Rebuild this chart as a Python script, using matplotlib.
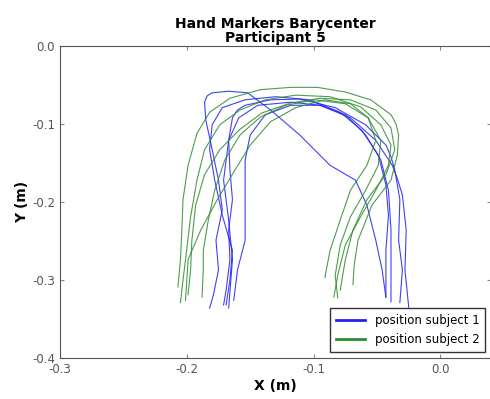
import matplotlib
matplotlib.use('Agg')
import matplotlib.pyplot as plt

# trajectories (metres)
blue_x = [
    [-0.182, -0.179, -0.175, -0.177, -0.172, -0.175, -0.180, -0.185, -0.186, -0.184, -0.180, -0.167, -0.152, -0.134, -0.111, -0.087, -0.067, -0.058, -0.051, -0.046, -0.043],
    [-0.171, -0.169, -0.166, -0.167, -0.164, -0.166, -0.167, -0.164, -0.160, -0.154, -0.134, -0.111, -0.083, -0.059, -0.043, -0.039, -0.036, -0.032, -0.033, -0.030, -0.032],
    [-0.167, -0.164, -0.167, -0.171, -0.167, -0.159, -0.144, -0.118, -0.095, -0.071, -0.051, -0.038, -0.034, -0.030, -0.027, -0.028, -0.025],
    [-0.163, -0.160, -0.154, -0.154, -0.154, -0.150, -0.138, -0.118, -0.095, -0.075, -0.059, -0.047, -0.041, -0.039, -0.039, -0.039],
    [-0.169, -0.166, -0.164, -0.172, -0.178, -0.182, -0.180, -0.172, -0.154, -0.130, -0.103, -0.079, -0.062, -0.049, -0.043, -0.041, -0.043, -0.043, -0.043],
]
blue_y = [
    [-0.336, -0.319, -0.287, -0.249, -0.210, -0.172, -0.133, -0.095, -0.072, -0.064, -0.060, -0.058, -0.060, -0.082, -0.114, -0.153, -0.172, -0.204, -0.249, -0.287, -0.322],
    [-0.332, -0.313, -0.274, -0.236, -0.197, -0.159, -0.121, -0.092, -0.082, -0.076, -0.069, -0.068, -0.079, -0.101, -0.127, -0.142, -0.159, -0.197, -0.249, -0.287, -0.329],
    [-0.336, -0.274, -0.223, -0.172, -0.121, -0.092, -0.076, -0.072, -0.076, -0.092, -0.121, -0.153, -0.170, -0.191, -0.236, -0.287, -0.335],
    [-0.326, -0.287, -0.249, -0.197, -0.146, -0.114, -0.088, -0.076, -0.076, -0.088, -0.114, -0.146, -0.185, -0.236, -0.287, -0.328],
    [-0.332, -0.300, -0.262, -0.217, -0.172, -0.133, -0.101, -0.079, -0.069, -0.065, -0.069, -0.085, -0.108, -0.140, -0.178, -0.217, -0.262, -0.300, -0.322],
]
green_x = [
    [-0.207, -0.205, -0.204, -0.203, -0.199, -0.192, -0.182, -0.166, -0.142, -0.118, -0.097, -0.075, -0.055, -0.039, -0.035, -0.033, -0.034, -0.039, -0.054, -0.065, -0.068, -0.069],
    [-0.205, -0.203, -0.201, -0.197, -0.192, -0.186, -0.174, -0.158, -0.138, -0.114, -0.087, -0.063, -0.047, -0.039, -0.041, -0.051, -0.063, -0.075, -0.081, -0.084],
    [-0.188, -0.187, -0.187, -0.183, -0.178, -0.170, -0.158, -0.142, -0.122, -0.099, -0.075, -0.057, -0.047, -0.049, -0.059, -0.071, -0.079, -0.083, -0.081],
    [-0.201, -0.200, -0.199, -0.189, -0.176, -0.162, -0.150, -0.134, -0.114, -0.091, -0.071, -0.057, -0.051, -0.058, -0.071, -0.079, -0.087, -0.090, -0.091],
    [-0.199, -0.197, -0.196, -0.193, -0.186, -0.174, -0.159, -0.141, -0.118, -0.095, -0.071, -0.051, -0.039, -0.036, -0.043, -0.058, -0.069, -0.075, -0.079],
]
green_y = [
    [-0.309, -0.274, -0.240, -0.197, -0.153, -0.112, -0.085, -0.067, -0.056, -0.053, -0.053, -0.059, -0.069, -0.088, -0.100, -0.114, -0.140, -0.172, -0.204, -0.249, -0.281, -0.306],
    [-0.329, -0.300, -0.274, -0.219, -0.172, -0.133, -0.101, -0.082, -0.069, -0.063, -0.065, -0.078, -0.101, -0.127, -0.153, -0.185, -0.219, -0.255, -0.294, -0.322],
    [-0.322, -0.287, -0.262, -0.223, -0.185, -0.146, -0.114, -0.091, -0.076, -0.069, -0.074, -0.092, -0.121, -0.153, -0.185, -0.219, -0.255, -0.294, -0.323],
    [-0.326, -0.300, -0.274, -0.236, -0.197, -0.159, -0.127, -0.097, -0.079, -0.069, -0.074, -0.092, -0.121, -0.153, -0.185, -0.223, -0.262, -0.287, -0.297],
    [-0.319, -0.287, -0.249, -0.204, -0.165, -0.133, -0.108, -0.086, -0.073, -0.067, -0.069, -0.082, -0.105, -0.133, -0.165, -0.197, -0.236, -0.274, -0.313],
]
x_ticks = [-0.3, -0.2, -0.1, 0.0]
y_ticks = [0.0, -0.1, -0.2, -0.3, -0.4]

fig = plt.figure(figsize=(4.9, 3.99), dpi=100)
ax = fig.add_axes([0.1224, 0.1028, 0.8800, 0.7819])

for i, (xs, ys) in enumerate(zip(blue_x, blue_y)):
    ax.plot(xs, ys, color='#2020f0', lw=0.8, alpha=0.85,
            label='position subject 1' if i == 0 else None)
for i, (xs, ys) in enumerate(zip(green_x, green_y)):
    ax.plot(xs, ys, color='#2e8b2e', lw=0.8, alpha=0.85,
            label='position subject 2' if i == 0 else None)

ax.set_xlim(-0.3, 0.04)
ax.set_ylim(-0.4, 0.0)
ax.set_xticks(x_ticks)
ax.set_yticks(y_ticks)
ax.set_xticklabels(['%.1f' % v for v in x_ticks])
ax.set_yticklabels(['%.1f' % v for v in y_ticks])
ax.tick_params(direction='in', top=True, right=True, labelsize=8.5,
               labelcolor='#555555', color='#888888', length=3)
for s in ax.spines.values():
    s.set_color('#555555')
    s.set_linewidth(0.8)

ax.set_title('Hand Markers Barycenter\nParticipant 5', fontsize=10,
             fontweight='bold', linespacing=0.95, pad=3)
ax.set_xlabel('X (m)', fontsize=10, fontweight='bold', labelpad=2)
ax.set_ylabel('Y (m)', fontsize=10, fontweight='bold', labelpad=2)

leg = ax.legend(loc='lower right', fontsize=8.5, fancybox=False,
                framealpha=1, edgecolor='#333333', handlelength=2.5,
                borderpad=0.5, borderaxespad=0.5)
for h in leg.get_lines():
    h.set_linewidth(2)
    h.set_alpha(1)

fig.savefig('out.png', dpi=100)
